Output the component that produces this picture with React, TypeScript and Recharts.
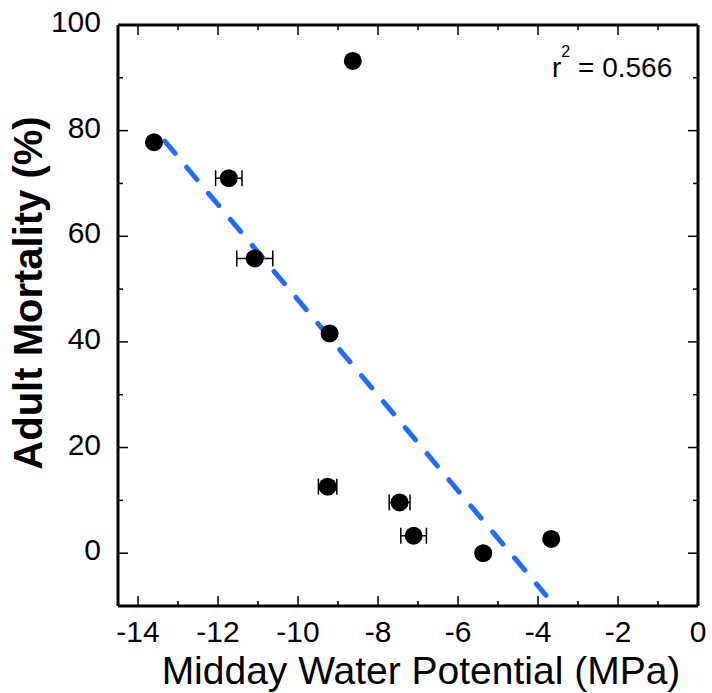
import React from "react";
import {
  ComposedChart,
  Scatter,
  XAxis,
  YAxis,
  ErrorBar,
} from "recharts";

// values
const waterPotential = [-13.6, -11.73, -11.08, -9.21, -8.63, -9.26, -7.46, -7.11, -5.37, -3.67];
const mortality = [77.8, 71.0, 55.8, 41.6, 93.2, 12.6, 9.6, 3.3, 0.0, 2.7];
const potentialError = [0, 0.33, 0.45, 0, 0, 0.23, 0.26, 0.32, 0, 0];

const fitPotential = [-13.33, -3.8];
const fitMortality = [78.0, -8.0];

const xTicks = [-14, -13, -12, -11, -10, -9, -8, -7, -6, -5, -4, -3, -2, -1, 0];
const yTicks = [0, 10, 20, 30, 40, 50, 60, 70, 80, 90, 100];

const points = waterPotential.map((x, i) => ({
  x,
  y: mortality[i],
  err: potentialError[i],
}));
const fit = fitPotential.map((x, i) => ({ x, y: fitMortality[i] }));

const FONT = "Arial, 'Liberation Sans', sans-serif";

function BottomTick({ x, y, payload }: any) {
  const v = payload.value;
  const major = v % 2 === 0;
  return (
    <g>
      <line x1={x} y1={y} x2={x} y2={y - (major ? 10 : 5)} stroke="#000" strokeWidth={1.5} />
      {major && (
        <text x={x} y={y + 36} textAnchor="middle" fontSize={30} fontFamily={FONT} fill="#000">
          {v}
        </text>
      )}
    </g>
  );
}

function TopTick({ x, y, payload }: any) {
  const major = payload.value % 2 === 0;
  return <line x1={x} y1={y} x2={x} y2={y + (major ? 10 : 5)} stroke="#000" strokeWidth={1.5} />;
}

function LeftTick({ x, y, payload }: any) {
  const v = payload.value;
  const major = v % 20 === 0;
  return (
    <g>
      <line x1={x} y1={y} x2={x + (major ? 10 : 5)} y2={y} stroke="#000" strokeWidth={1.5} />
      {major && (
        <text x={x - 17} y={y + 7} textAnchor="end" fontSize={30} fontFamily={FONT} fill="#000">
          {v}
        </text>
      )}
    </g>
  );
}

function RightTick({ x, y, payload }: any) {
  const major = payload.value % 20 === 0;
  return <line x1={x} y1={y} x2={x - (major ? 10 : 5)} y2={y} stroke="#000" strokeWidth={1.5} />;
}

const Dot = (props: any) => <circle cx={props.cx} cy={props.cy} r={9} fill="#000" />;
const NoDot = () => <g />;

export default function App() {
  return (
    <div style={{ position: "absolute", left: 0, top: 0, background: "#fff" }}>
      <ComposedChart
        width={712}
        height={693}
        margin={{ top: 24, right: 13, left: 0, bottom: 0 }}
      >
        <XAxis
          dataKey="x"
          type="number"
          domain={[-14.5, 0]}
          ticks={xTicks}
          allowDataOverflow
          height={87}
          tickSize={0}
          tickMargin={0}
          tickLine={false}
          axisLine={{ stroke: "#000", strokeWidth: 3 }}
          tick={<BottomTick />}
          interval={0}
          label={{
            content: ({ viewBox }: any) => (
              <text
                x={421}
                y={viewBox.y + 78}
                textAnchor="middle"
                fontSize={39}
                fontFamily={FONT}
                fill="#000"
              >
                Midday Water Potential (MPa)
              </text>
            ),
          }}
        />
        <XAxis
          xAxisId="top"
          dataKey="x"
          orientation="top"
          type="number"
          domain={[-14.5, 0]}
          ticks={xTicks}
          allowDataOverflow
          height={1}
          tickSize={0}
          tickMargin={0}
          tickLine={false}
          axisLine={{ stroke: "#000", strokeWidth: 3 }}
          tick={<TopTick />}
          interval={0}
          label={{
            content: () => (
              <text x={552} y={77} fontSize={28} fontFamily={FONT} fill="#000">
                r
                <tspan fontSize={16} dy={-20}>2</tspan>
                <tspan dy={20}> = 0.566</tspan>
              </text>
            ),
          }}
        />
        <YAxis
          dataKey="y"
          type="number"
          domain={[-10, 100]}
          ticks={yTicks}
          allowDataOverflow
          width={118}
          tickSize={0}
          tickMargin={0}
          tickLine={false}
          axisLine={{ stroke: "#000", strokeWidth: 3 }}
          tick={<LeftTick />}
          interval={0}
          label={{
            content: () => (
              <text
                x={42}
                y={293}
                transform="rotate(-90 42 293)"
                textAnchor="middle"
                fontSize={40}
                fontWeight="bold"
                fontFamily={FONT}
                fill="#000"
              >
                Adult Mortality (%)
              </text>
            ),
          }}
        />
        <YAxis
          yAxisId="right"
          dataKey="y"
          orientation="right"
          type="number"
          domain={[-10, 100]}
          ticks={yTicks}
          allowDataOverflow
          width={1}
          tickSize={0}
          tickMargin={0}
          tickLine={false}
          axisLine={{ stroke: "#000", strokeWidth: 3 }}
          tick={<RightTick />}
          interval={0}
        />
        <Scatter
          data={fit}
          xAxisId="top"
          yAxisId="right"
          shape={NoDot}
          line={{
            stroke: "#1f6cff",
            strokeWidth: 5,
            strokeDasharray: "16 18",
            strokeLinecap: "round",
          }}
          lineType="joint"
          isAnimationActive={false}
        />
        <Scatter data={points} shape={Dot} isAnimationActive={false}>
          <ErrorBar
            dataKey="err"
            direction="x"
            width={8}
            stroke="#000"
            strokeWidth={1.5}
            isAnimationActive={false}
          />
        </Scatter>
      </ComposedChart>
    </div>
  );
}
